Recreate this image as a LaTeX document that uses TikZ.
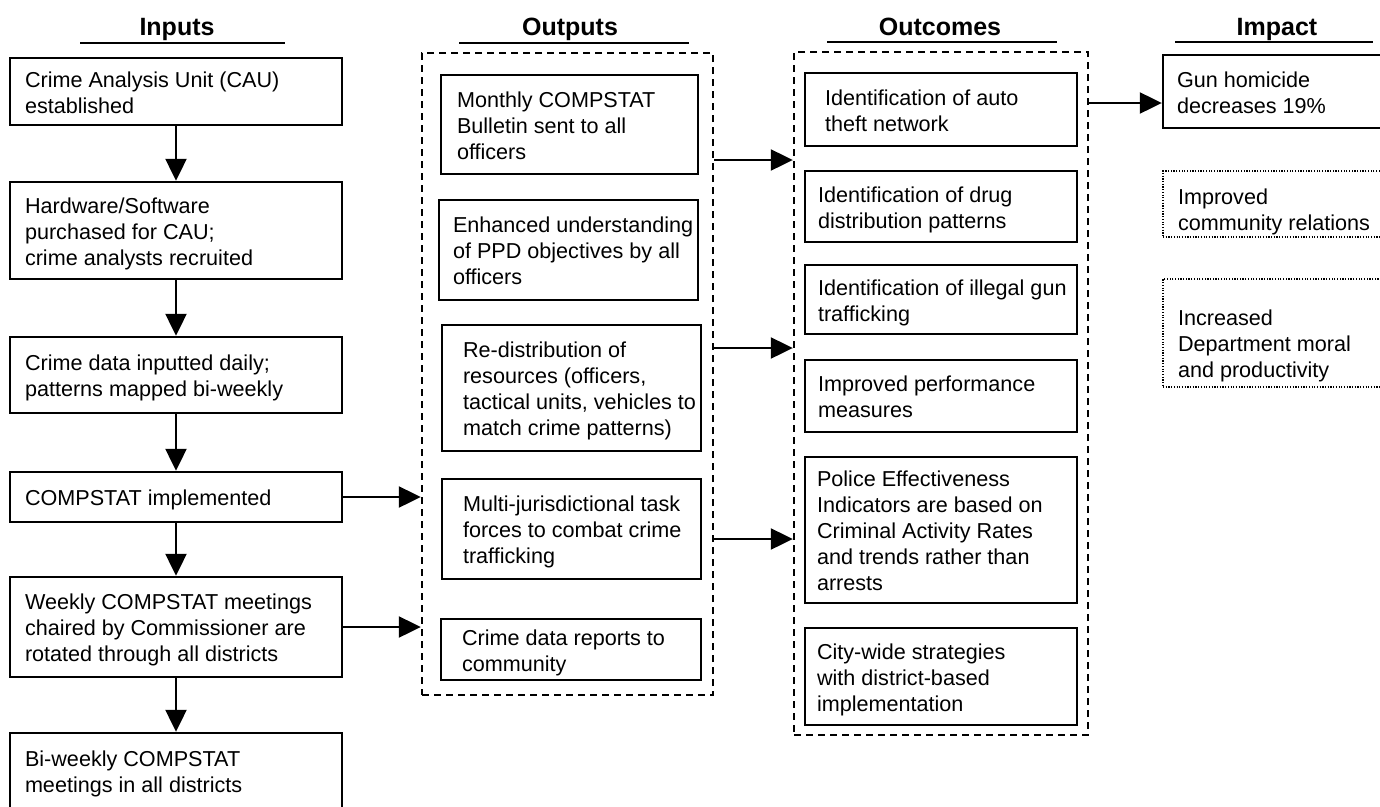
\documentclass[tikz,border=0pt]{standalone}
\usepackage{fontspec}
\setmainfont{Liberation Sans}
\usetikzlibrary{arrows.meta}
\hfuzz=200pt
\def\myRaise{-3.5pt}
\newcommand\mybox[8]{%
  \pgfmathsetmacro\myBW{#5-#3}%
  \pgfmathsetmacro\myBH{#6-#4}%
  \pgfmathsetmacro\myTW{#5-#3-2*#7}%
  \node[#1, minimum width=\myBW pt, minimum height=\myBH pt] (#2) at ({(#3+#5)/2},{(#4+#6)/2})
    {\makebox[\myTW pt][l]{\raisebox{\myRaise}[\height][\depth]{\begin{tabular}{@{}l@{}}#8\end{tabular}}}};}
\begin{document}
\begin{tikzpicture}[x=1pt,y=-1pt,
  box/.style={draw, line width=2.4pt, inner xsep=0pt, inner ysep=0pt, font=\fontsize{21.6}{26}\selectfont},
  dotbox/.style={box, line width=1.5pt, dash pattern=on 1.2pt off 1.5pt},
  grp/.style={draw, line width=2.4pt, dash pattern=on 7pt off 5pt, inner sep=0pt},
  hdr/.style={font=\bfseries\fontsize{25}{30}\selectfont, inner sep=0pt, anchor=base},
  uline/.style={line width=2.6pt},
  arr/.style={line width=2.2pt, -{Triangle[length=22pt,width=21pt]}}]

\clip (0,0) rectangle (1380,806);

% headers
\node[hdr] (hin) at (177,35) {Inputs};
\draw[uline] (80,43) -- (285,43);
\node[hdr] (hout) at (570,35) {Outputs};
\draw[uline] (459,43) -- (689,43);
\node[hdr] (hoc) at (940,35) {Outcomes};
\draw[uline] (827,42) -- (1057,42);
\node[hdr] (him) at (1277,35) {Impact};
\draw[uline] (1175,42) -- (1373,42);

% group containers
\node[grp, minimum width=291pt, minimum height=642pt] (ocont) at (567.5,374) {};
\node[grp, minimum width=294pt, minimum height=683pt] (ccont) at (941,393.5) {};

% inputs
\mybox{box}{in1}{10}{58}{342}{125}{15}{Crime Analysis Unit (CAU)\\established}
\mybox{box}{in2}{10}{182}{342}{279}{15}{Hardware/Software\\purchased for CAU;\\crime analysts recruited}
\mybox{box}{in3}{10}{337}{342}{413}{15}{Crime data inputted daily;\\patterns mapped bi-weekly}
\mybox{box}{in4}{10}{472}{342}{522}{15}{COMPSTAT implemented}
\mybox{box}{in5}{10}{577}{342}{677}{15}{Weekly COMPSTAT meetings\\chaired by Commissioner are\\rotated through all districts}
\mybox{box}{in6}{10}{733}{342}{808}{15}{Bi-weekly COMPSTAT\\meetings in all districts}

% outputs
\mybox{box}{out1}{441}{75}{698}{174}{16}{Monthly COMPSTAT\\Bulletin sent to all\\officers}
\mybox{box}{out2}{439}{200}{698}{300}{14}{Enhanced understanding\\of PPD objectives by all\\officers}
\mybox{box}{out3}{442}{325}{701}{451}{21}{Re-distribution of\\resources (officers,\\tactical units, vehicles to\\match crime patterns)}
\mybox{box}{out4}{442}{479}{701}{579}{21}{Multi-jurisdictional task\\forces to combat crime\\trafficking}
\mybox{box}{out5}{441}{619}{701}{680}{21}{Crime data reports to\\community}

% outcomes
\mybox{box}{oc1}{805}{73}{1077}{146}{20}{Identification of auto\\theft network}
\mybox{box}{oc2}{805}{171}{1077}{242}{13}{Identification of drug\\distribution patterns}
\mybox{box}{oc3}{805}{265}{1077}{334}{13}{Identification of illegal gun\\trafficking}
\mybox{box}{oc4}{805}{360}{1077}{432}{13}{Improved performance\\measures}
\mybox{box}{oc5}{805}{457}{1077}{603}{12}{Police Effectiveness\\Indicators are based on\\Criminal Activity Rates\\and trends rather than\\arrests}
\mybox{box}{oc6}{805}{628}{1077}{725}{12}{City-wide strategies\\with district-based\\implementation}

% impact
\mybox{box}{im1}{1163}{55}{1395}{128}{14}{Gun homicide\\decreases 19\%}
\def\myRaise{-8.5pt}
\mybox{dotbox}{im2}{1163}{171}{1395}{237}{15}{Improved\\community relations}
\def\myRaise{-13.5pt}
\mybox{dotbox}{im3}{1163}{279}{1395}{387}{15}{Increased\\Department moral\\and productivity}

% connectors
\foreach \a/\b in {in1/in2,in2/in3,in3/in4,in4/in5,in5/in6}
  \draw[arr] (\a) -- (\b);
\draw[arr] (in4.east) -- (in4.east -| ocont.west);
\draw[arr] (in5.east) -- (in5.east -| ocont.west);
\coordinate (r1) at (0,160);
\coordinate (r2) at (0,348);
\coordinate (r3) at (0,539);
\coordinate (r4) at (0,103);
\draw[arr] (ocont.east |- r1) -- (ccont.west |- r1);
\draw[arr] (ocont.east |- r2) -- (ccont.west |- r2);
\draw[arr] (ocont.east |- r3) -- (ccont.west |- r3);
\draw[arr] (ccont.east |- r4) -- (im1.west |- r4);
\end{tikzpicture}
\end{document}
